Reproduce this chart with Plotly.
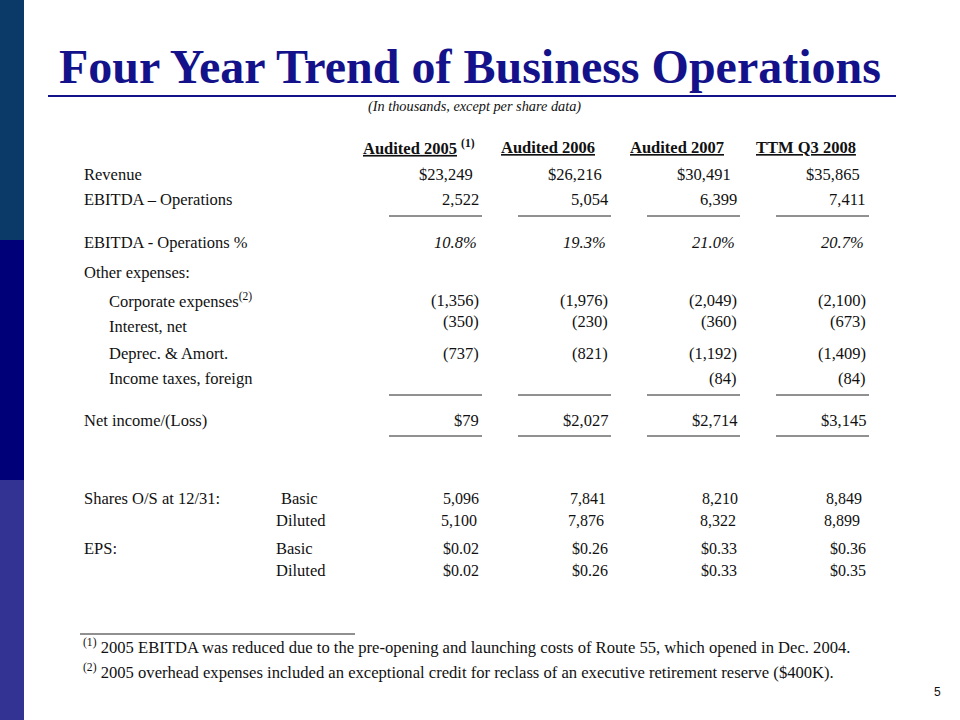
import plotly.graph_objects as go

# ---------------- data ----------------
periods = ["Audited 2005", "Audited 2006", "Audited 2007", "TTM Q3 2008"]
period_notes = ["(1)", "", "", ""]
revenue = [23249, 26216, 30491, 35865]
ebitda_ops = [2522, 5054, 6399, 7411]
ebitda_pct = [10.8, 19.3, 21.0, 20.7]
corporate_exp = [-1356, -1976, -2049, -2100]
interest_net = [-350, -230, -360, -673]
deprec_amort = [-737, -821, -1192, -1409]
income_taxes = [None, None, -84, -84]
net_income = [79, 2027, 2714, 3145]
shares_basic = [5096, 7841, 8210, 8849]
shares_diluted = [5100, 7876, 8322, 8899]
eps_basic = [0.02, 0.26, 0.33, 0.36]
eps_diluted = [0.02, 0.26, 0.33, 0.35]

title = "Four Year Trend of Business Operations"
subtitle = "(In thousands, except per share data)"
footnotes = [
    ("(1)", "2005 EBITDA was reduced due to the pre-opening and launching costs of Route 55, which opened in Dec. 2004."),
    ("(2)", "2005 overhead expenses included an exceptional credit for reclass of an executive retirement reserve ($400K)."),
]
page_number = "5"

# ---------------- styling / layout ----------------
SERIF = "Liberation Serif"
NAVY = "#14128a"
TXT = "#111111"
BODY = 16.5
col_right = [481, 610, 739, 868]
header_center = [419, 548, 677, 806]
shares_right = [481, 608, 740, 864]


def fmt_dollar(v):
    return "${:,}".format(v)


def fmt_plain(v):
    return "{:,}".format(v)


def fmt_pct(v):
    return "<i>{:.1f}%</i>".format(v)


def fmt_paren(v):
    if v is None:
        return ""
    return "({:,})".format(-v) if v < 0 else "{:,}".format(v)


def fmt_eps(v):
    return "${:.2f}".format(v)


annotations = []
shapes = []


def txt(x, y, s, size=BODY, anchor="left", color=TXT, family=SERIF, yanchor="middle"):
    annotations.append(dict(x=x, y=y, xref="x", yref="y", text=s, showarrow=False,
                            xanchor=anchor, yanchor=yanchor,
                            font=dict(family=family, size=size, color=color)))


def hline(x0, x1, y, color="#222222", width=1):
    shapes.append(dict(type="line", xref="x", yref="y", x0=x0, x1=x1, y0=y, y1=y,
                       line=dict(color=color, width=width)))


# sidebar
for (y0, y1, c) in [(0, 240, "#0c3a68"), (240, 480, "#000078"), (480, 720, "#333393")]:
    shapes.append(dict(type="rect", xref="x", yref="y", x0=0, x1=24, y0=y0, y1=y1,
                       fillcolor=c, line=dict(width=0), layer="below"))

# title
txt(57, 66, "<b>" + title + "</b>", size=48, color=NAVY)
hline(48, 896, 96, color=NAVY, width=2.2)
txt(474, 106, "<i>" + subtitle + "</i>", size=14.3, anchor="center")

# headers
for p, n, xc in zip(periods, period_notes, header_center):
    s = "<u><b>" + p + "</b></u>"
    if n:
        s += " <b><sup>" + n + "</sup></b>"
    txt(xc, 147, s, size=16.5, anchor="center")

# table rows: (label, label_x, y, values, formatter, value_dy, value_dx)
rows = [
    ("Revenue", 82, 174, revenue, fmt_dollar, 0, -6),
    ("EBITDA \u2013 Operations", 82, 199, ebitda_ops, fmt_plain, 0, 0),
    ("EBITDA - Operations %", 82, 242, ebitda_pct, fmt_pct, 0, -2),
    ("Other expenses:", 82, 272, None, None, 0, 0),
    ("Corporate expenses<sup>(2)</sup>", 107, 300, corporate_exp, fmt_paren, 0, 0),
    ("Interest, net", 107, 326, interest_net, fmt_paren, -5, 0),
    ("Deprec. &amp; Amort.", 107, 353, deprec_amort, fmt_paren, 0, 0),
    ("Income taxes, foreign", 107, 378, income_taxes, fmt_paren, 0, 0),
    ("Net income/(Loss)", 82, 420, net_income, fmt_dollar, 0, 0),
]
for label, lx, y, vals, f, dy, dx in rows:
    txt(lx, y, label)
    if vals is None:
        continue
    for v, xr in zip(vals, col_right):
        s = f(v)
        if s:
            txt(xr + dx, y + dy, s, anchor="right")

for y in [216, 395, 436]:
    for xr in col_right:
        hline(xr - 92, xr + 1, y)

# shares & EPS
txt(82, 498, "Shares O/S at 12/31:")
txt(279, 498, "Basic")
txt(274, 520, "Diluted")
for v, xr in zip(shares_basic, shares_right):
    txt(xr, 498, fmt_plain(v), size=16, anchor="right")
for v, xr in zip(shares_diluted, shares_right):
    txt(xr - 2, 520, fmt_plain(v), size=16, anchor="right")

txt(82, 548, "EPS:")
txt(274, 548, "Basic")
txt(274, 570, "Diluted")
for v, xr in zip(eps_basic, col_right):
    txt(xr, 548, fmt_eps(v), size=16, anchor="right")
for v, xr in zip(eps_diluted, col_right):
    txt(xr, 570, fmt_eps(v), size=16, anchor="right")

# footnotes
hline(80, 355, 634, color="#222222", width=1.2)
for (mark, note), y in zip(footnotes, [646, 671]):
    txt(81, y, "<sup>" + mark + "</sup> " + note, size=16.6)

txt(943, 692, page_number, size=12, anchor="right", family="Liberation Sans")

fig = go.Figure()
fig.add_trace(go.Scatter(x=[0, 960], y=[0, 720], mode="markers",
                         marker=dict(opacity=0), hoverinfo="skip", showlegend=False))
fig.update_layout(
    width=960, height=720,
    margin=dict(l=0, r=0, t=0, b=0),
    paper_bgcolor="white", plot_bgcolor="white",
    xaxis=dict(range=[0, 960], visible=False, fixedrange=True),
    yaxis=dict(range=[720, 0], visible=False, fixedrange=True),
    annotations=annotations, shapes=shapes, showlegend=False,
)
fig.write_html("out.html", config={"displayModeBar": False},
               post_script="document.body.style.margin='0';document.body.style.overflow='hidden';")
